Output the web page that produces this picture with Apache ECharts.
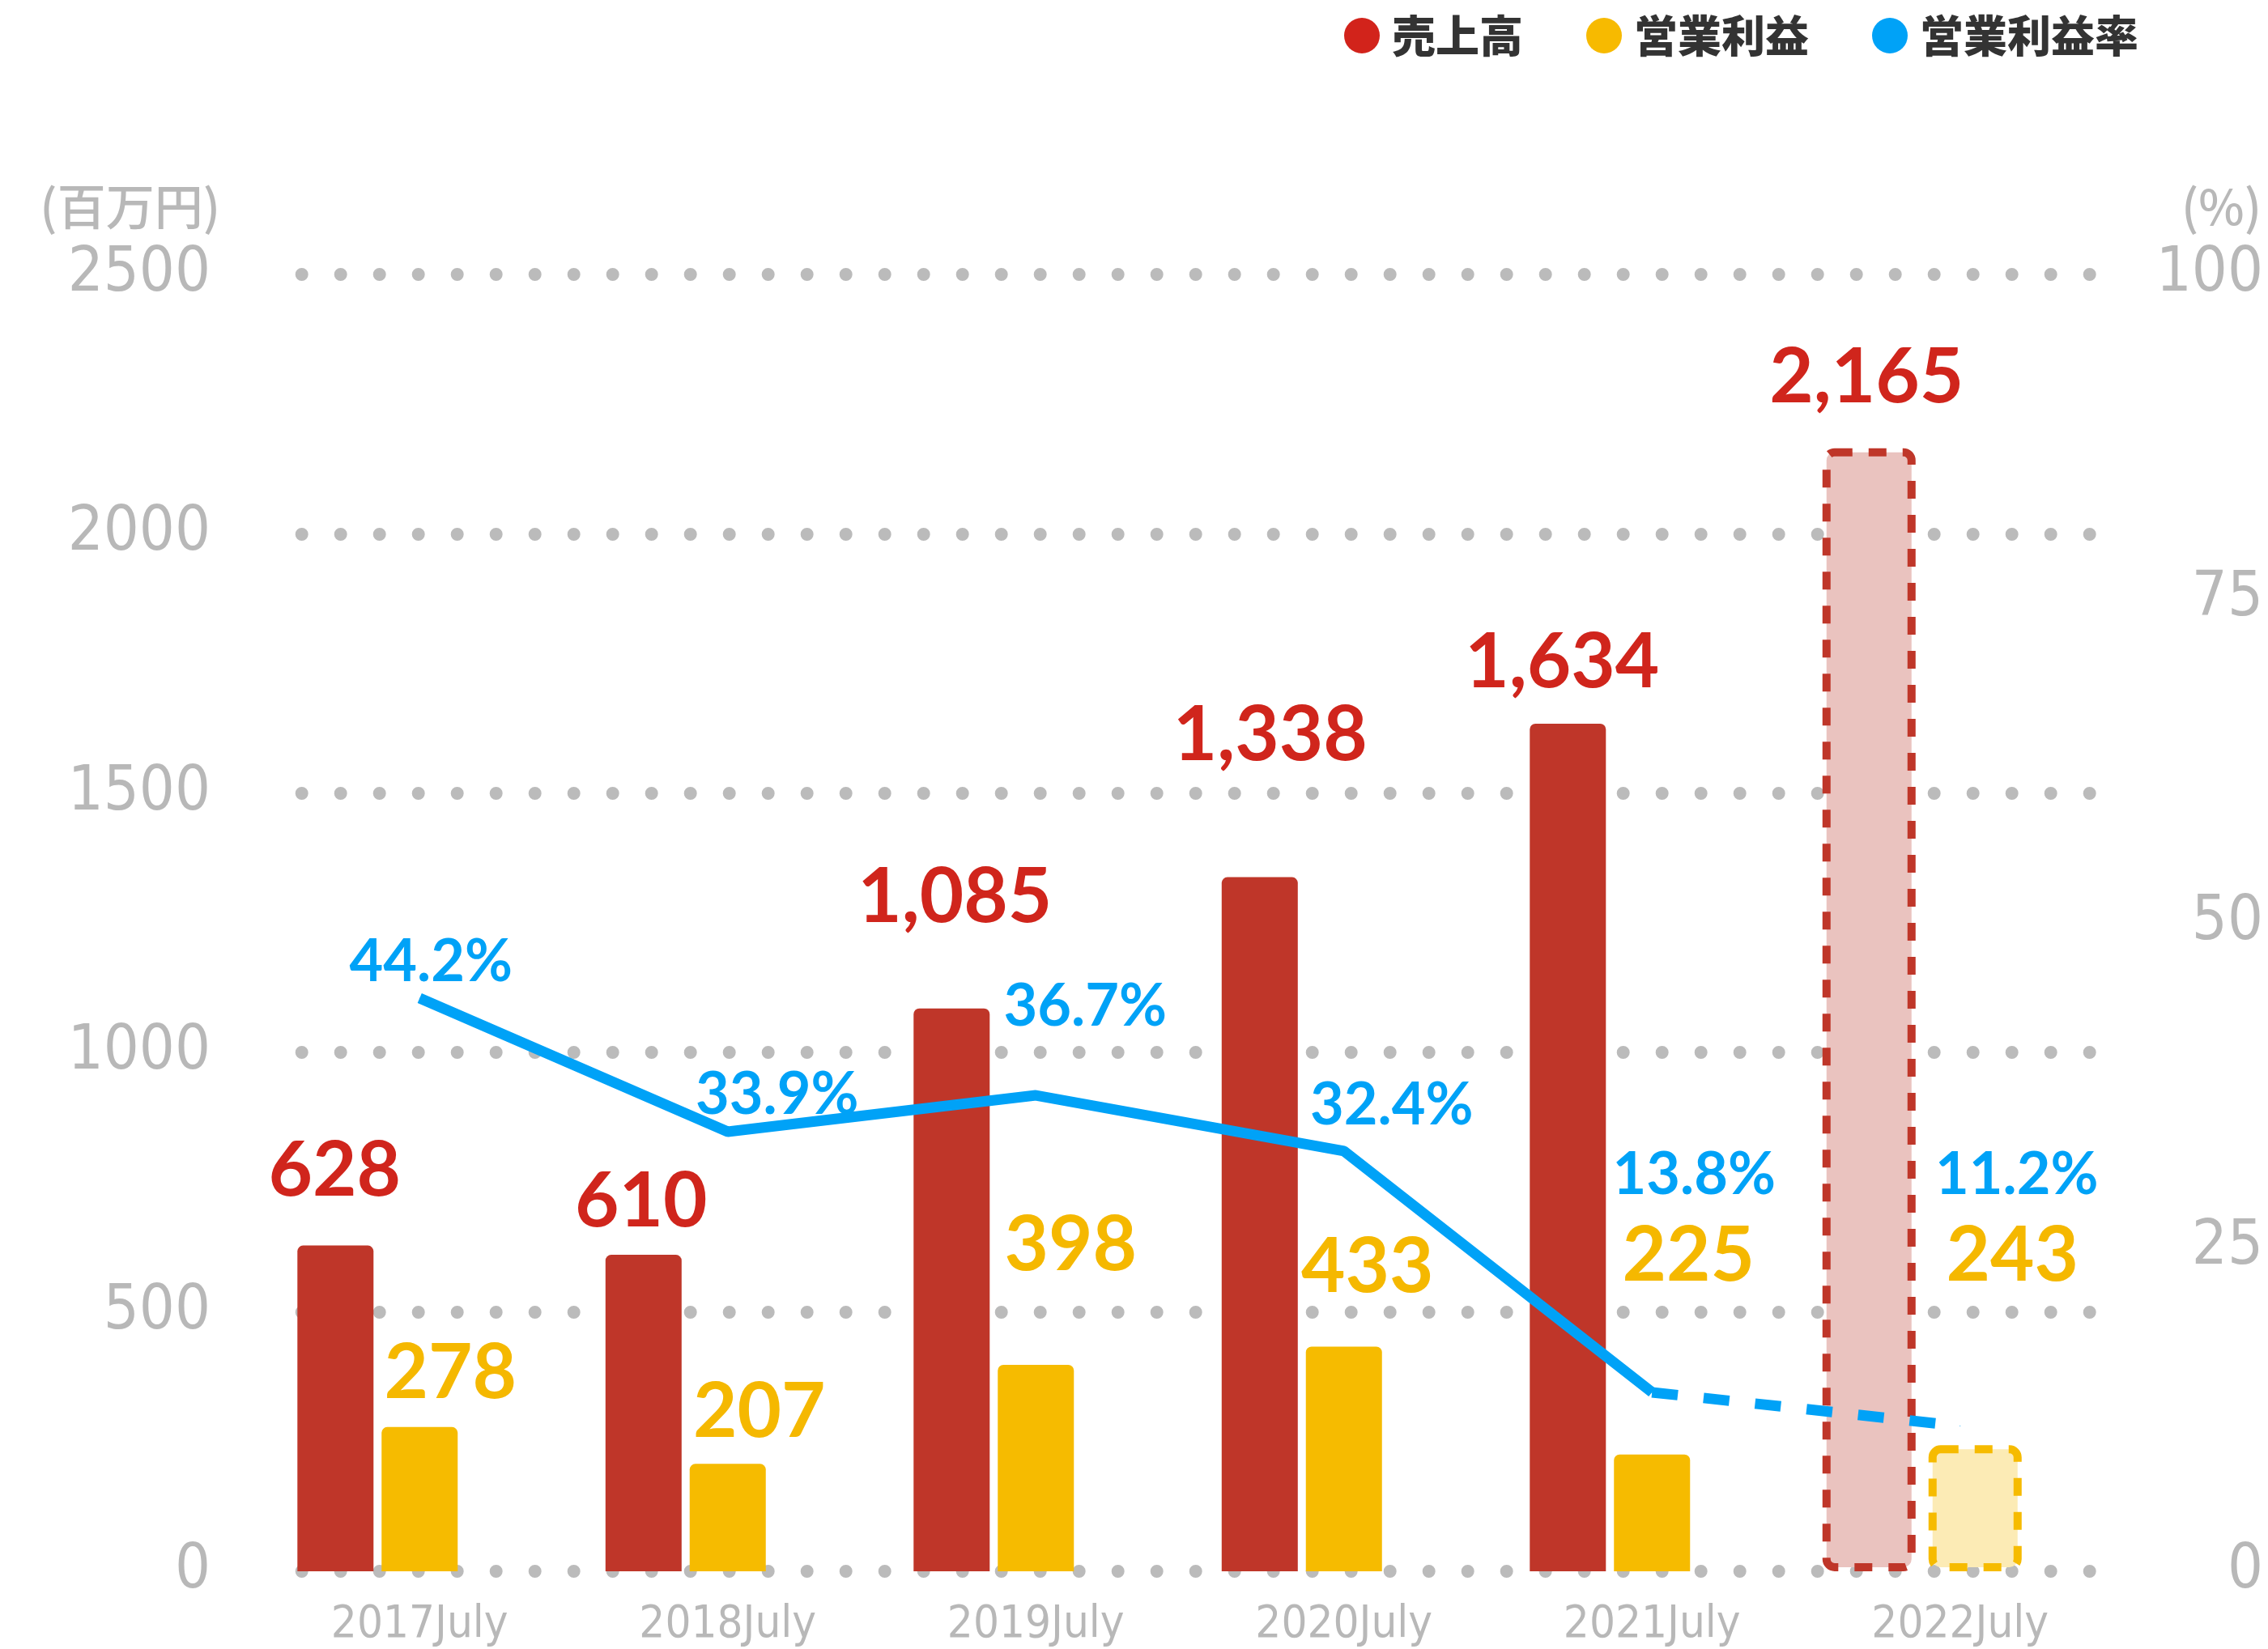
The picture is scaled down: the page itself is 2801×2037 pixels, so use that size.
<!DOCTYPE html>
<html>
<head>
<meta charset="utf-8">
<script src="https://cdn.jsdelivr.net/npm/echarts@6/dist/echarts.min.js"></script>
<style>
  html, body { margin: 0; padding: 0; background: #fff; }
  #main { width: 2801px; height: 2037px; }
</style>
</head>
<body>
<div id="main"></div>
<script>
var years = ['2017July', '2018July', '2019July', '2020July', '2021July', '2022July']
var sales = [628, 610, 1085, 1338, 1634, 2165]
var profit = [278, 207, 398, 433, 225, 243]
var profitRate = [44.2, 33.9, 36.7, 32.4, 13.8, 11.2]
var planIndex = 5 // 2022 = plan, drawn as dashed boxes / dashed line

// label nudges in px, one per year
var salesLabelOffset = [[-1, -45], [-3, -18], [4, -90], [13, -128], [-7, -28], [-3, -40]]
var profitLabelOffset = [[38, -19], [39, -17], [43, -100], [29, -51], [45, -198], [46, -187]]
var rateLabelOffset = [[14, -44], [61, -45], [61, -109], [59, -56], [52, -268], [70, -310]]

var RED = '#bf3629'
var RED_TXT = '#d0251c'
var RED_PLAN = '#eac3bf'
var YEL = '#f6bb00'
var YEL_TXT = '#f5b800'
var YEL_PLAN = '#fcebb5'
var BLUE = '#00a2f7'
var GRAY = '#b8b8b8'
var NUM_FONT = 'Lato, "Open Sans", sans-serif'
var AXIS_FONT = '"DejaVu Sans Condensed", Roboto, sans-serif'
var JP_FONT = '"Noto Sans CJK JP", sans-serif'

function fmtNum(v) {
  return String(v).replace(/\B(?=(\d{3})+(?!\d))/g, ',')
}

function barItems(arr, offsets, isPlan) {
  return arr.map(function(v, i) {
    if ((i === planIndex) !== isPlan) return '-'
    return { value: v, label: { offset: offsets[i] } }
  })
}

var numLabel = function(color) {
  return {
    show: true,
    position: 'top',
    distance: 0,
    color: color,
    fontSize: 94,
    lineHeight: 94,
    fontFamily: NUM_FONT,
    fontWeight: 'bold',
    formatter: function(p) { return fmtNum(p.value) }
  }
}

var zeros = years.map(function() { return 0 })

var solidRate = profitRate.map(function(v, i) {
  if (i >= planIndex) return '-'
  return { value: v, label: { offset: rateLabelOffset[i] } }
})
var dashRate = profitRate.map(function(v, i) {
  if (i < planIndex - 1) return '-'
  if (i === planIndex) return { value: v, label: { show: true, offset: rateLabelOffset[i] } }
  return { value: v, label: { show: false } }
})

var rateLabel = {
  show: true,
  position: 'inside',
  align: 'center',
  verticalAlign: 'middle',
  color: BLUE,
  fontSize: 72,
  fontFamily: NUM_FONT,
  fontWeight: 'bold',
  formatter: function(p) { return p.value.toFixed(1) + '%' }
}

var chart = echarts.init(document.getElementById('main'))
var option = {
  animation: false,
  backgroundColor: '#fff',
  legend: {
    right: 155,
    top: 12,
    icon: 'circle',
    itemWidth: 44,
    itemHeight: 44,
    itemGap: 78,
    selectedMode: false,
    textStyle: {
      fontSize: 54,
      fontWeight: 900,
      color: '#333',
      fontFamily: JP_FONT,
      padding: [0, 0, 0, 10]
    },
    data: [
      { name: '売上高', itemStyle: { color: '#d2231b' } },
      { name: '営業利益', itemStyle: { color: '#f7ba00' } },
      { name: '営業利益率', itemStyle: { color: BLUE } }
    ]
  },
  grid: { left: 328, right: 190, top: 339, bottom: 96 },
  xAxis: [
    {
      type: 'category',
      data: years,
      axisLine: { show: false },
      axisTick: { show: false },
      axisLabel: { margin: 38, fontSize: 56, color: GRAY, fontFamily: AXIS_FONT }
    },
    { type: 'category', data: years, show: false }
  ],
  yAxis: [
    {
      type: 'value',
      min: 0,
      max: 2500,
      interval: 500,
      name: '(百万円)',
      nameLocation: 'end',
      nameGap: 84,
      nameTextStyle: {
        fontSize: 60,
        fontWeight: 500,
        color: GRAY,
        fontFamily: JP_FONT,
        align: 'right',
        verticalAlign: 'middle',
        padding: [0, 56, 0, 0]
      },
      axisLine: { show: false },
      axisTick: { show: false },
      axisLabel: {
        margin: 68,
        fontSize: 77,
        color: GRAY,
        fontFamily: AXIS_FONT,
        formatter: function(v) { return String(v) }
      },
      splitLine: {
        lineStyle: { color: '#bbbbbb', width: 16, type: [0, 48], cap: 'round', dashOffset: 3.3 }
      }
    },
    {
      type: 'value',
      min: 0,
      max: 100,
      interval: 25,
      name: '(%)',
      nameLocation: 'end',
      nameGap: 84,
      nameTextStyle: {
        fontSize: 60,
        fontWeight: 500,
        color: GRAY,
        fontFamily: JP_FONT,
        align: 'left',
        verticalAlign: 'middle',
        padding: [0, 0, 0, 83]
      },
      axisLine: { show: false },
      axisTick: { show: false },
      axisLabel: { margin: 184, align: 'right', fontSize: 77, color: GRAY, fontFamily: AXIS_FONT },
      splitLine: { show: false }
    }
  ],
  series: [
    // actual years
    {
      name: '売上高',
      type: 'bar',
      xAxisIndex: 0,
      barWidth: 94,
      barGap: '10.6%',
      itemStyle: { color: RED, borderRadius: [7, 7, 0, 0] },
      label: numLabel(RED_TXT),
      data: barItems(sales, salesLabelOffset, false)
    },
    {
      name: '営業利益',
      type: 'bar',
      xAxisIndex: 0,
      barWidth: 94,
      barGap: '10.6%',
      itemStyle: { color: YEL, borderRadius: [7, 7, 0, 0] },
      label: numLabel(YEL_TXT),
      data: barItems(profit, profitLabelOffset, false)
    },
    {
      // empty slot so the pair sits left of the year label
      name: 'spacer',
      type: 'bar',
      xAxisIndex: 0,
      barWidth: 94,
      barGap: '10.6%',
      silent: true,
      itemStyle: { color: 'rgba(0,0,0,0)' },
      data: zeros
    },
    // plan year (2022), wider dashed boxes on a hidden twin axis
    {
      name: '売上高',
      type: 'bar',
      xAxisIndex: 1,
      barWidth: 115,
      barGap: '13.9%',
      itemStyle: {
        color: RED_PLAN,
        borderColor: RED,
        borderWidth: 10,
        borderType: [22, 20],
        borderRadius: 10
      },
      label: numLabel(RED_TXT),
      data: barItems(sales, salesLabelOffset, true)
    },
    {
      name: '営業利益',
      type: 'bar',
      xAxisIndex: 1,
      barWidth: 115,
      barGap: '13.9%',
      itemStyle: {
        color: YEL_PLAN,
        borderColor: YEL,
        borderWidth: 10,
        borderType: [22, 20],
        borderRadius: 10
      },
      label: numLabel(YEL_TXT),
      data: barItems(profit, profitLabelOffset, true)
    },
    {
      name: 'spacer2',
      type: 'bar',
      xAxisIndex: 1,
      barWidth: 78,
      barGap: '13.9%',
      silent: true,
      itemStyle: { color: 'rgba(0,0,0,0)' },
      data: zeros
    },
    {
      name: '営業利益率',
      type: 'line',
      xAxisIndex: 0,
      yAxisIndex: 1,
      z: 10,
      symbol: 'circle',
      symbolSize: 1,
      itemStyle: { color: BLUE },
      lineStyle: { color: BLUE, width: 13 },
      label: rateLabel,
      data: solidRate
    },
    {
      name: '営業利益率',
      type: 'line',
      xAxisIndex: 0,
      yAxisIndex: 1,
      z: 10,
      symbol: 'circle',
      symbolSize: 1,
      itemStyle: { color: BLUE },
      lineStyle: { color: BLUE, width: 13, type: [32, 32] },
      label: rateLabel,
      data: dashRate
    }
  ]
}
chart.setOption(option)
</script>
</body>
</html>
